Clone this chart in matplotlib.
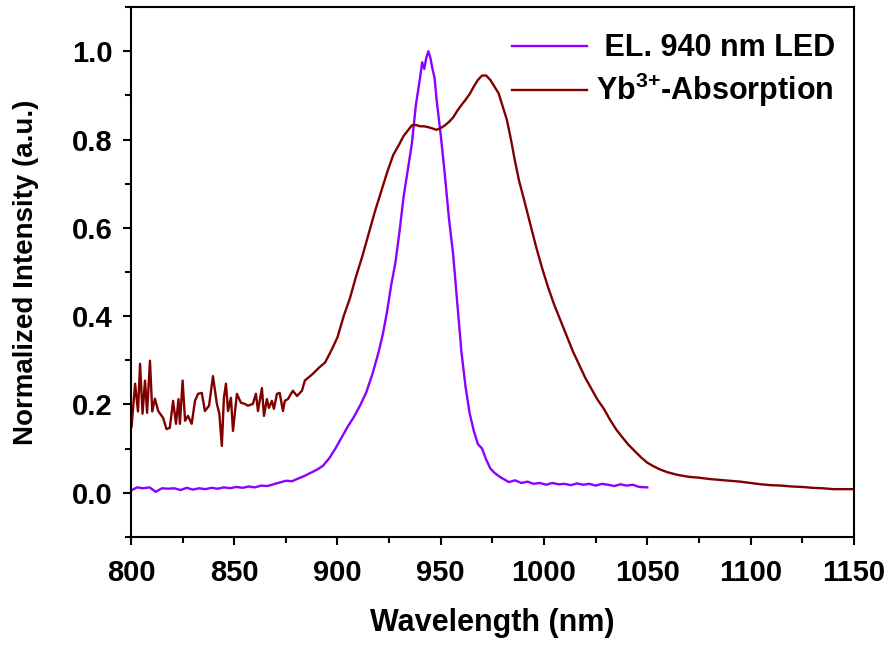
import matplotlib
matplotlib.use("Agg")
import matplotlib.pyplot as plt
from matplotlib.ticker import MultipleLocator

plt.rcParams['font.family'] = ['Liberation Sans', 'DejaVu Sans']
plt.rcParams['font.weight'] = 'bold'
plt.rcParams['mathtext.fontset'] = 'custom'
plt.rcParams['mathtext.rm'] = 'Liberation Sans:bold'
plt.rcParams['mathtext.bf'] = 'Liberation Sans:bold'
plt.rcParams['mathtext.default'] = 'bf'

# EL spectrum of 940 nm LED
el_x = [800, 803, 806, 809, 812, 815, 818, 821, 824, 827, 830, 833, 836, 839, 842, 845,
        848, 851, 854, 857, 860, 863, 866, 869, 872, 875, 878, 881, 884, 887, 890, 893,
        896, 899, 902, 905, 908, 911, 914, 917, 920, 922, 924, 926, 928, 930, 932, 934,
        936, 938, 940, 941, 942, 943, 944, 945, 946, 947, 948, 950, 952, 954, 956, 958,
        960, 962, 964, 966, 968, 970, 972, 974, 976, 978, 980, 983, 986, 989, 992, 995,
        998, 1001, 1004, 1007, 1010, 1013, 1016, 1019, 1022, 1025, 1028, 1031, 1034,
        1037, 1040, 1043, 1046, 1050]
el_y = [0.005, 0.012, 0.010, 0.012, 0.002, 0.010, 0.009, 0.010, 0.006, 0.011, 0.007, 0.010,
        0.008, 0.011, 0.009, 0.012, 0.010, 0.013, 0.011, 0.014, 0.012, 0.016, 0.015, 0.019,
        0.023, 0.027, 0.026, 0.032, 0.038, 0.045, 0.052, 0.061, 0.078, 0.100, 0.125, 0.150,
        0.172, 0.198, 0.228, 0.270, 0.320, 0.360, 0.410, 0.470, 0.520, 0.590, 0.670, 0.730,
        0.790, 0.880, 0.940, 0.975, 0.960, 0.985, 1.000, 0.985, 0.960, 0.940, 0.890, 0.810,
        0.720, 0.620, 0.540, 0.430, 0.320, 0.240, 0.180, 0.140, 0.110, 0.100, 0.075, 0.055,
        0.045, 0.038, 0.032, 0.024, 0.028, 0.022, 0.025, 0.020, 0.022, 0.018, 0.022, 0.019,
        0.020, 0.017, 0.021, 0.018, 0.020, 0.016, 0.020, 0.018, 0.015, 0.019, 0.016, 0.018,
        0.013, 0.012]

# Yb3+ absorption spectrum
ab_x = [800.3, 802, 803.4, 804.4, 805.6, 806.8, 807.8, 809.2, 810.3, 811.6, 813.2, 815.6,
        817.2, 818.8, 820.4, 821.8, 823, 823.7, 825, 826.2, 827.6, 829.4, 831, 832.5, 834.3,
        835.8, 837.8, 839.7, 841.6, 842.8, 844, 845, 846, 847, 848.4, 849.4, 851.3, 853.2,
        855.2, 856.6, 859, 860.5, 861.5, 863.4, 864.4, 865.8, 866.8, 868.2, 869.2, 870.7,
        872, 873.6, 874.5, 876, 878.4, 880.4, 882.8, 884.2, 885.7, 888, 891, 894, 897, 900,
        903, 906, 909, 912, 915, 918, 921, 924, 927, 930, 932, 934, 936, 938, 940, 942, 944,
        946, 948, 950, 952, 954, 956, 958, 960, 962, 964, 966, 968, 970, 972, 974, 976, 978,
        980, 982, 984, 986, 988, 990, 993, 996, 999, 1002, 1005, 1008, 1011, 1014, 1017,
        1020, 1023, 1026, 1029, 1032, 1035, 1038, 1041, 1044, 1047, 1050, 1053, 1056, 1060,
        1065, 1070, 1075, 1080, 1085, 1090, 1095, 1100, 1105, 1110, 1115, 1120, 1125, 1130,
        1135, 1140, 1145, 1150]
ab_y = [0.150, 0.247, 0.184, 0.292, 0.179, 0.254, 0.181, 0.299, 0.184, 0.213, 0.185, 0.169,
        0.144, 0.147, 0.208, 0.156, 0.212, 0.156, 0.254, 0.163, 0.174, 0.156, 0.208, 0.224,
        0.226, 0.185, 0.197, 0.264, 0.201, 0.179, 0.106, 0.215, 0.247, 0.185, 0.215, 0.140,
        0.224, 0.204, 0.201, 0.197, 0.201, 0.224, 0.185, 0.237, 0.174, 0.212, 0.192, 0.208,
        0.190, 0.224, 0.226, 0.185, 0.208, 0.212, 0.231, 0.219, 0.231, 0.254, 0.260, 0.269,
        0.283, 0.295, 0.322, 0.352, 0.400, 0.440, 0.490, 0.535, 0.585, 0.635, 0.680, 0.725,
        0.765, 0.790, 0.808, 0.820, 0.832, 0.833, 0.830, 0.830, 0.828, 0.825, 0.822, 0.826,
        0.832, 0.840, 0.850, 0.865, 0.878, 0.890, 0.903, 0.920, 0.935, 0.945, 0.945, 0.935,
        0.920, 0.905, 0.875, 0.845, 0.800, 0.750, 0.705, 0.670, 0.615, 0.560, 0.510, 0.465,
        0.425, 0.390, 0.355, 0.320, 0.290, 0.260, 0.235, 0.210, 0.190, 0.165, 0.143, 0.125,
        0.108, 0.094, 0.080, 0.068, 0.060, 0.053, 0.046, 0.040, 0.036, 0.034, 0.031, 0.029,
        0.027, 0.025, 0.022, 0.019, 0.017, 0.016, 0.014, 0.013, 0.011, 0.010, 0.008, 0.008,
        0.008]

labels = [" EL. 940 nm LED", "Yb$^{3{+}}$-Absorption"]
colors = ["#8B00FF", "#800000"]

fig = plt.figure(figsize=(8.94, 6.46), dpi=100)
ax = fig.add_axes([0.1465, 0.169, 0.8085, 0.820])

ax.plot(el_x, el_y, color=colors[0], lw=1.7, label=labels[0])
ax.plot(ab_x, ab_y, color=colors[1], lw=1.7, label=labels[1])

ax.set_xlim(800, 1150)
ax.set_ylim(-0.1, 1.1)
ax.xaxis.set_major_locator(MultipleLocator(50))
ax.xaxis.set_minor_locator(MultipleLocator(25))
ax.yaxis.set_major_locator(MultipleLocator(0.2))
ax.yaxis.set_minor_locator(MultipleLocator(0.1))
ax.yaxis.set_major_formatter(plt.FuncFormatter(lambda v, p: f"{v:.1f}"))

for s in ax.spines.values():
    s.set_linewidth(1.5)
ax.tick_params(which='major', direction='out', length=6, width=1.5, labelsize=21)
ax.tick_params(axis='x', which='major', pad=10)
ax.tick_params(axis='y', which='major', pad=7)
ax.tick_params(which='minor', direction='out', length=4, width=1.5)
ax.tick_params(top=False, right=False)

ax.set_xlabel("Wavelength (nm)", fontsize=22, fontweight='bold', labelpad=15)
ax.set_ylabel("Normalized Intensity (a.u.)", fontsize=20, fontweight='bold', labelpad=24)

leg = ax.legend(loc='upper right', bbox_to_anchor=(1.0, 0.985), frameon=False,
                fontsize=22, handlelength=2.45, handletextpad=0.3, labelspacing=0.25,
                borderaxespad=0.2)
for t in leg.get_texts():
    t.set_fontweight('bold')

fig.savefig("out.png", dpi=100)
